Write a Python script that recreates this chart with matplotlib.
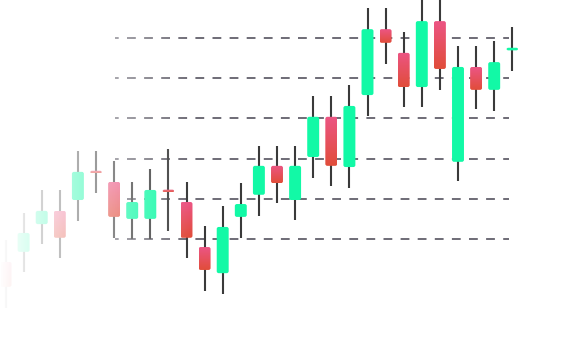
import numpy as np
import matplotlib
matplotlib.use("Agg")
import matplotlib.pyplot as plt
from matplotlib.patches import FancyBboxPatch
from matplotlib.colors import LinearSegmentedColormap

# OHLC data
opens = [94.3, 96.8, 103.7, 107.0, 109.7, 116.8, 114.2, 105.0, 105.0, 112.1,
         109.2, 98.0, 91.5, 105.5, 111.0, 118.2, 109.7, 120.4, 130.4, 117.9,
         135.8, 152.2, 146.3, 137.8, 154.2, 119.2, 142.8, 137.1, 147.1]
highs = [99.8, 106.5, 112.2, 112.2, 121.9, 121.9, 119.4, 114.2, 117.4, 122.4,
         114.2, 103.2, 108.2, 113.9, 123.1, 123.1, 123.1, 135.6, 135.6, 138.3,
         157.5, 157.5, 151.5, 160.5, 160.5, 148.0, 148.0, 149.3, 152.7]
lows = [82.8, 91.8, 98.8, 95.3, 104.5, 111.4, 100.3, 100.0, 100.0, 102.0,
        95.3, 87.1, 86.3, 100.3, 105.7, 109.0, 104.7, 115.2, 113.2, 112.7,
        130.6, 143.5, 132.8, 132.8, 137.1, 114.4, 132.3, 131.8, 141.8]
closes = [88.1, 101.5, 107.0, 100.3, 116.7, 116.5, 105.5, 109.2, 112.2, 111.8,
          100.3, 92.3, 103.0, 108.7, 118.2, 113.9, 118.2, 130.4, 118.2, 133.1,
          152.2, 148.8, 137.8, 154.2, 142.3, 142.8, 137.1, 144.0, 147.4]
grid_levels = [100, 110, 120, 130, 140, 150]

W, H = 581, 360
fig = plt.figure(figsize=(W / 100, H / 100), dpi=100)
ax = fig.add_axes([0, 0, 1, 1])
ax.axis("off")

# pixel scale
px_x = 18.1          # pixels per candle
px_y = 4.02          # pixels per price unit
x0_px = 5.5
xlim = (-x0_px / px_x, (W - x0_px) / px_x)
ylim = (100 - (H - 239) / px_y, 100 + 239 / px_y)

green = "#12f9a6"
red_cmap = LinearSegmentedColormap.from_list("r", ["#e14d3a", "#ec5584"])
wick_c = "#3a3a3a"
body_w = 0.66
rnd = 2.0 / px_x
aspect = px_x / px_y
min_h = 2.6 / px_y

# grid
gx0 = (115 - x0_px) / px_x
gx1 = (508.5 - x0_px) / px_x
ax.hlines(grid_levels, gx0, gx1, colors="#55535f", lw=1.2,
          linestyles=(3.06, (5.28, 4.98)), zorder=1)

for i, (o, h, l, c) in enumerate(zip(opens, highs, lows, closes)):
    ax.vlines(i, l, h, colors=wick_c, lw=1.5, zorder=2)
    lo, hi = min(o, c), max(o, c)
    if hi - lo < min_h:
        mid = (hi + lo) / 2
        lo, hi = mid - min_h / 2, mid + min_h / 2
    up = c >= o
    patch = FancyBboxPatch((i - body_w / 2, lo), body_w, hi - lo,
                           boxstyle=f"round,pad=0,rounding_size={rnd}",
                           mutation_aspect=aspect,
                           facecolor=green if up else "none",
                           edgecolor="none", zorder=3)
    ax.add_patch(patch)
    if not up:
        grad = np.linspace(0, 1, 64).reshape(-1, 1)
        im = ax.imshow(grad, cmap=red_cmap, origin="lower", aspect="auto",
                       extent=(i - body_w / 2, i + body_w / 2, lo, hi),
                       zorder=3)
        im.set_clip_path(patch)

ax.set_xlim(*xlim)
ax.set_ylim(*ylim)

# left fade
ov = fig.add_axes([0, 0, 1, 1], zorder=10)
ov.axis("off")
alpha = np.clip(1 - np.arange(W) / 190.0, 0, 1)
img = np.ones((1, W, 4))
img[0, :, 3] = alpha
ov.imshow(img, aspect="auto", extent=(0, W, 0, H))
ov.set_xlim(0, W)
ov.set_ylim(0, H)

fig.savefig("out.png", dpi=100, facecolor="white")
